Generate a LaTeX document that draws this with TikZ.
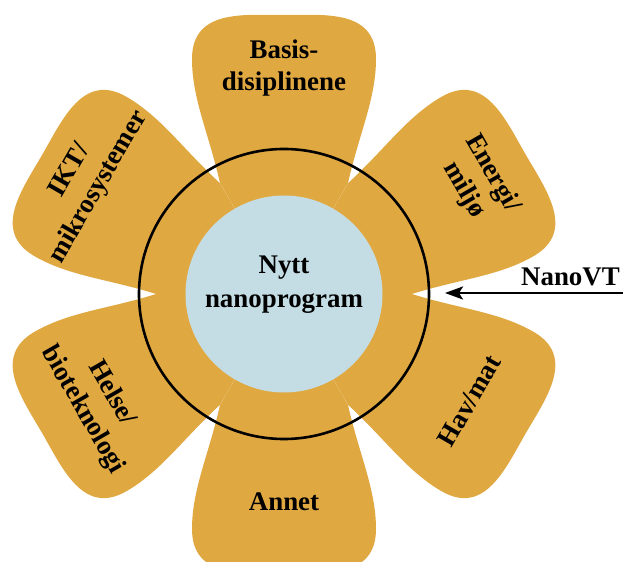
\documentclass[tikz,border=0pt]{standalone}
\usepackage{fontspec}
\setmainfont{Liberation Serif}
\usepackage{tikz}
\usetikzlibrary{positioning, arrows.meta, calc}
\definecolor{myGold}{HTML}{E0A841}
\definecolor{myIce}{HTML}{C4DDE4}

\begin{document}
\begin{tikzpicture}[x=1bp, y=1bp,
  petal/.style={fill=myGold, draw=none},
  lbl/.style={font=\fontsize{27}{33}\selectfont\bfseries, align=center,
              inner sep=0pt},
  arr/.style={-{Stealth[length=18bp, width=13bp, inset=4bp]}, line width=2.5bp}
]
\useasboundingbox (-284,-268) rectangle (339,294);
% six petals round the centre
\foreach \ang in {90,30,-30,-90,-150,150}{
  \fill[petal, rotate=\ang-90] (0,0) -- (64,111)
    .. controls (75,160) and (92,195) .. (92,235)
    .. controls (92,285) and (40,279) .. (0,279)
    .. controls (-40,279) and (-92,285) .. (-92,235)
    .. controls (-92,195) and (-75,160) .. (-64,111) -- cycle;
}
\node[circle, draw, line width=2.6bp, minimum size=290bp, inner sep=0pt] (ring) at (0,0) {};
\node[circle, fill=myIce, minimum size=197bp, inner sep=0pt] (core) at (0,0) {};
\node[lbl, font=\fontsize{27}{34}\selectfont\bfseries] (coreText) at (0,9) {Nytt\\nanoprogram};
% petal labels
\node[lbl] (basis)  at (90:226)   {Basis-\\disiplinene};
\node[lbl, rotate=-60] (energi) at (30:224)  {Energi/\\miljø};
\node[lbl, rotate=60]  (hav)    at (-30:214) {Hav/mat};
\node[lbl] (annet)  at (-90:208)  {Annet};
\node[lbl, rotate=-60] (helse)  at (-150:216) {Helse/\\bioteknologi};
\node[lbl, rotate=60]  (ikt)    at (150:230)  {IKT/\\mikrosystemer};
% incoming arrow
\coordinate (nvStart) at (339,1);
\coordinate (nvTip)   at (161,1);
\draw[arr] (nvStart) -- (nvTip);
\node[lbl, anchor=base east] (nanovt) at (336,8) {NanoVT};
\end{tikzpicture}
\end{document}
